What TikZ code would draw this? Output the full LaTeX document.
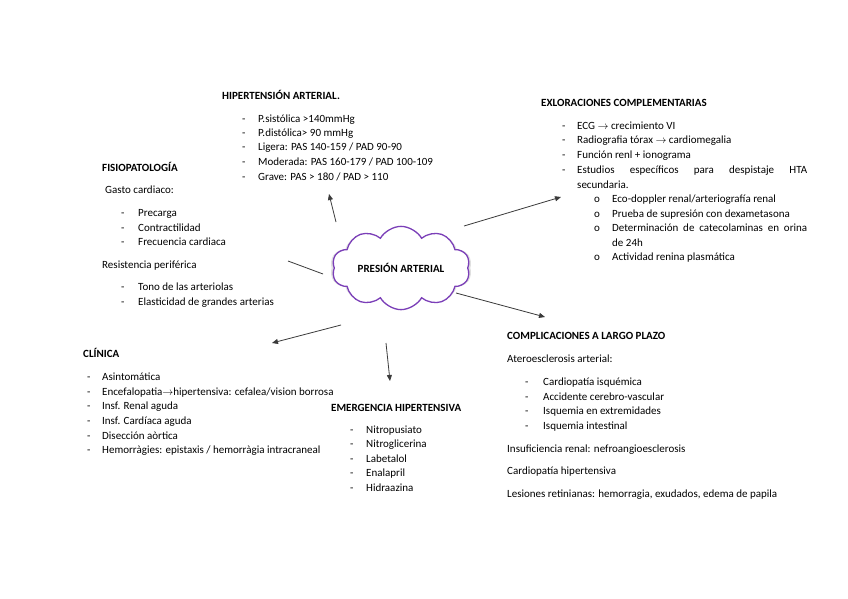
\documentclass[tikz,border=0pt]{standalone}
\usepackage{fontspec}
\setmainfont{Carlito}
\usetikzlibrary{shapes.symbols,arrows.meta}
\definecolor{cloudpurple}{HTML}{7B3FB8}
\definecolor{arrowgray}{HTML}{3A3A3A}
\begin{document}
\begin{tikzpicture}[x=1pt,y=-1pt,
  tx/.style={anchor=base west,inner sep=0pt,font=\fontsize{11}{13}\selectfont},
  hd/.style={anchor=base west,inner sep=0pt,font=\fontsize{11}{13}\selectfont\bfseries},
  conn/.style={draw=arrowgray,line width=0.8pt,-{Triangle[length=6pt,width=5pt]}},
  plainconn/.style={draw=arrowgray,line width=0.8pt}]
\useasboundingbox (0,0) rectangle (848,599);
\fill[white] (0,0) rectangle (848,599);

% cloud
\node[cloud,cloud puffs=10,cloud puff arc=120,aspect=2.1,minimum width=138pt,minimum height=78pt,
      draw=black!12,line width=4pt] (glow) at (401,268) {};
\node[cloud,cloud puffs=10,cloud puff arc=120,aspect=2.1,minimum width=138pt,minimum height=78pt,
      draw=cloudpurple,fill=white,line width=1.3pt,font=\fontsize{11}{13}\selectfont\bfseries] (pa) at (401,268) {PRESIÓN ARTERIAL};

% HIPERTENSION ARTERIAL
\node[hd] (hta) at (222,99.5) {HIPERTENSIÓN ARTERIAL.};
\node[tx] (hd1) at (242,122.5) {-};
\node[tx] (h1) at (258,122.5) {P.sistólica >140mmHg};
\node[tx] (hd2) at (242,136.5) {-};
\node[tx] (h2) at (258,136.5) {P.distólica> 90 mmHg};
\node[tx] (hd3) at (242,150.5) {-};
\node[tx] (h3) at (258,150.5) {Ligera: PAS 140-159 / PAD 90-90};
\node[tx] (hd4) at (242,165.5) {-};
\node[tx] (h4) at (258,165.5) {Moderada: PAS 160-179 / PAD 100-109};
\node[tx] (hd5) at (242,180.5) {-};
\node[tx] (h5) at (258,180.5) {Grave: PAS > 180 / PAD > 110};

% EXPLORACIONES
\node[hd] (exp) at (541,106.5) {EXLORACIONES COMPLEMENTARIAS};
\node[tx] (ed1) at (562,129.5) {-};
\node[tx] (e1) at (577,129.5) {ECG \ensuremath{\rightarrow} crecimiento VI};
\node[tx] (ed2) at (562,143.5) {-};
\node[tx] (e2) at (577,143.5) {Radiografia tórax \ensuremath{\rightarrow} cardiomegalia};
\node[tx] (ed3) at (562,158.5) {-};
\node[tx] (e3) at (577,158.5) {Función renl + ionograma};
\node[tx] (ed4) at (562,173.5) {-};
\node[tx] (e4) at (577,173.5) {\makebox[230pt][s]{Estudios específicos para despistaje HTA}};
\node[tx] (e4b) at (577,188.5) {secundaria.};
\node[tx] (eo1) at (594,202.5) {o};
\node[tx] (s1) at (612,202.5) {Eco-doppler renal/arteriografía renal};
\node[tx] (eo2) at (594,217.5) {o};
\node[tx] (s2) at (612,217.5) {Prueba de supresión con dexametasona};
\node[tx] (eo3) at (594,231.5) {o};
\node[tx] (s3) at (612,231.5) {\makebox[195pt][s]{Determinación de catecolaminas en orina}};
\node[tx] (s3b) at (612,246.5) {de 24h};
\node[tx] (eo4) at (594,260.5) {o};
\node[tx] (s4) at (612,260.5) {Actividad renina plasmática};

% FISIOPATOLOGIA
\node[hd] (fis) at (102,171.5) {FISIOPATOLOGÍA};
\node[tx] (gc) at (105,193.5) {Gasto cardiaco:};
\node[tx] (fd1) at (121,216.5) {-};
\node[tx] (f1) at (138,216.5) {Precarga};
\node[tx] (fd2) at (121,231.5) {-};
\node[tx] (f2) at (138,231.5) {Contractilidad};
\node[tx] (fd3) at (121,245.5) {-};
\node[tx] (f3) at (138,245.5) {Frecuencia cardiaca};
\node[tx] (rp) at (102,268.5) {Resistencia periférica};
\node[tx] (fd4) at (121,290.5) {-};
\node[tx] (f4) at (138,290.5) {Tono de las arteriolas};
\node[tx] (fd5) at (121,305.5) {-};
\node[tx] (f5) at (138,305.5) {Elasticidad de grandes arterias};

% CLINICA
\node[hd] (cli) at (83,357.5) {CLÍNICA};
\node[tx] (cd1) at (87,380.5) {-};
\node[tx] (c1) at (102,380.5) {Asintomática};
\node[tx] (cd2) at (87,395.5) {-};
\node[tx] (c2) at (102,395.5) {Encefalopatia\ensuremath{\rightarrow}hipertensiva: cefalea/vision borrosa};
\node[tx] (cd3) at (87,409.5) {-};
\node[tx] (c3) at (102,409.5) {Insf. Renal aguda};
\node[tx] (cd4) at (87,424.5) {-};
\node[tx] (c4) at (102,424.5) {Insf. Cardíaca aguda};
\node[tx] (cd5) at (87,439.5) {-};
\node[tx] (c5) at (102,439.5) {Disección aòrtica};
\node[tx] (cd6) at (87,453.5) {-};
\node[tx] (c6) at (102,453.5) {Hemorràgies: epistaxis / hemorràgia intracraneal};

% EMERGENCIA
\node[hd] (eme) at (331,411.5) {EMERGENCIA HIPERTENSIVA};
\node[tx] (md1) at (350,433.5) {-};
\node[tx] (m1) at (366,433.5) {Nitropusiato};
\node[tx] (md2) at (350,447.5) {-};
\node[tx] (m2) at (366,447.5) {Nitroglicerina};
\node[tx] (md3) at (350,462.5) {-};
\node[tx] (m3) at (366,462.5) {Labetalol};
\node[tx] (md4) at (350,476.5) {-};
\node[tx] (m4) at (366,476.5) {Enalapril};
\node[tx] (md5) at (350,491.5) {-};
\node[tx] (m5) at (366,491.5) {Hidraazina};

% COMPLICACIONES
\node[hd] (com) at (507,339.5) {COMPLICACIONES A LARGO PLAZO};
\node[tx] (ate) at (507,362.5) {Ateroesclerosis arterial:};
\node[tx] (kd1) at (525,385.5) {-};
\node[tx] (k1) at (543,385.5) {Cardiopatía isquémica};
\node[tx] (kd2) at (525,400.5) {-};
\node[tx] (k2) at (543,400.5) {Accidente cerebro-vascular};
\node[tx] (kd3) at (525,414.5) {-};
\node[tx] (k3) at (543,414.5) {Isquemia en extremidades};
\node[tx] (kd4) at (525,429.5) {-};
\node[tx] (k4) at (543,429.5) {Isquemia intestinal};
\node[tx] (ins) at (507,452.5) {Insuficiencia renal: nefroangioesclerosis};
\node[tx] (chi) at (507,474.5) {Cardiopatía hipertensiva};
\node[tx] (les) at (507,497.5) {Lesiones retinianas: hemorragia, exudados, edema de papila};

% connector end points
\coordinate (a1s) at (336,222); \coordinate (a1e) at (329,194);
\coordinate (a2s) at (464,226); \coordinate (a2e) at (561,197);
\coordinate (a3s) at (323,274); \coordinate (a3e) at (288,261);
\coordinate (a4s) at (456,293); \coordinate (a4e) at (545,317);
\coordinate (a5s) at (341,325); \coordinate (a5e) at (272,343);
\coordinate (a6s) at (386,343); \coordinate (a6e) at (390,381);

\draw[conn] (a1s) -- (a1e);
\draw[conn] (a2s) -- (a2e);
\draw[plainconn] (a3s) -- (a3e);
\draw[conn] (a4s) -- (a4e);
\draw[conn] (a5s) -- (a5e);
\draw[conn] (a6s) -- (a6e);
\end{tikzpicture}
\end{document}
